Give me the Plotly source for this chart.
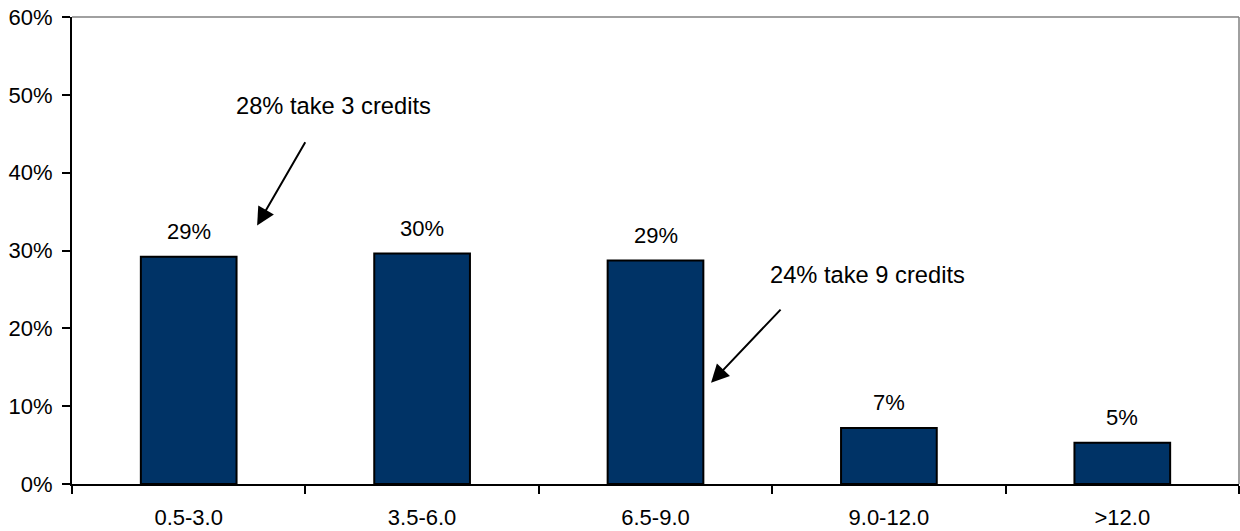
import plotly.graph_objects as go

categories = ["0.5-3.0", "3.5-6.0", "6.5-9.0", "9.0-12.0", ">12.0"]
values = [29.2, 29.6, 28.7, 7.2, 5.3]
value_labels = ["29%", "30%", "29%", "7%", "5%"]
callout_texts = ["28% take 3 credits", "24% take 9 credits"]
callout_text_pos = [(0.62, 48.6), (2.907, 26.9)]
callout_arrow_tail = [(0.503, 44.1), (2.542, 22.6)]
callout_arrow_head = [(0.293, 33.2), (2.238, 13.0)]

FONT = "Liberation Sans, Arial, sans-serif"

fig = go.Figure()
fig.add_trace(go.Bar(
    x=categories, y=values,
    marker=dict(color="#003366", line=dict(color="#000000", width=2)),
    width=0.41,
    hoverinfo="skip",
))

annotations = []
for c, v, t in zip(categories, values, value_labels):
    annotations.append(dict(x=c, y=v, text=t, showarrow=False, xref="x", yref="y",
                            yanchor="bottom", yshift=11,
                            font=dict(family=FONT, size=22, color="#000")))
for t, (tx, ty) in zip(callout_texts, callout_text_pos):
    annotations.append(dict(x=tx, y=ty, text=t, showarrow=False, xref="x", yref="y",
                            xanchor="center", yanchor="middle",
                            font=dict(family=FONT, size=23.7, color="#000")))
for (hx, hy), (tx, ty) in zip(callout_arrow_head, callout_arrow_tail):
    annotations.append(dict(x=hx, y=hy, ax=tx, ay=ty, xref="x", yref="y",
                            axref="x", ayref="y", text="", showarrow=True,
                            arrowhead=2, arrowsize=1.8, arrowwidth=2, arrowcolor="#000"))

fig.update_layout(
    width=1240, height=531,
    margin=dict(l=72, r=1, t=17, b=47),
    paper_bgcolor="white", plot_bgcolor="white",
    showlegend=False,
    font=dict(family=FONT, size=22, color="#000"),
    annotations=annotations,
    shapes=[
        dict(type="line", xref="paper", yref="paper", x0=0, x1=1, y0=1, y1=1,
             line=dict(color="#808080", width=1.5)),
        dict(type="line", xref="paper", yref="paper", x0=1, x1=1, y0=0, y1=1,
             line=dict(color="#808080", width=1.5)),
    ],
)
fig.update_xaxes(
    range=[-0.5, 4.5], showline=True, linecolor="#000", linewidth=2,
    ticks="outside", tickson="boundaries", ticklen=8, tickwidth=2, tickcolor="#000",
    showgrid=False, zeroline=False, ticklabelstandoff=13, ticklabeloverflow="allow",
    automargin=False,
    tickfont=dict(family=FONT, size=22, color="#000"),
)
fig.update_yaxes(
    range=[0, 60], dtick=10, ticksuffix="%", showline=True, linecolor="#000", linewidth=2,
    ticks="outside", ticklen=8, tickwidth=2, tickcolor="#000",
    showgrid=False, zeroline=False, ticklabelstandoff=5, ticklabeloverflow="allow",
    automargin=False,
    tickfont=dict(family=FONT, size=22, color="#000"),
)

fig.write_html("out.html", config={"displayModeBar": False},
               post_script="document.body.style.margin='0';document.body.style.overflow='hidden';")
